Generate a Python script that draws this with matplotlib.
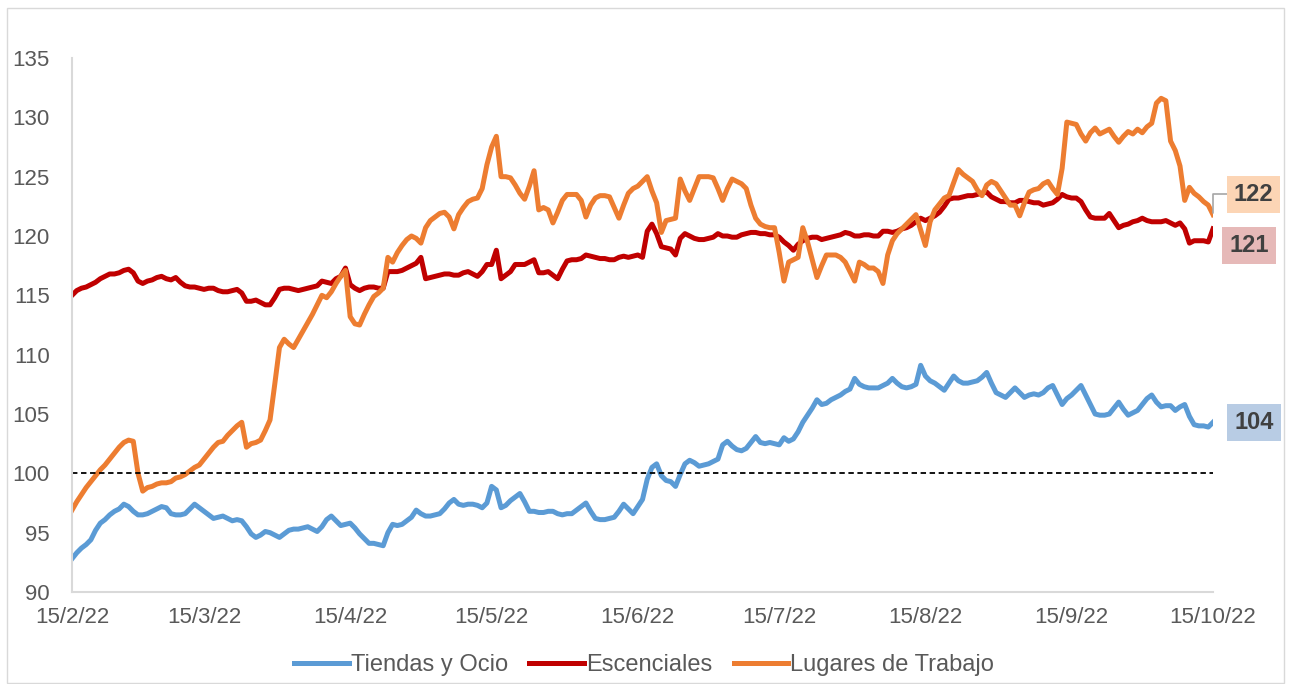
import numpy as np
import pandas as pd
import matplotlib
matplotlib.use('Agg')
import matplotlib.pyplot as plt
import matplotlib.dates as mdates
from matplotlib.ticker import FuncFormatter
from matplotlib.patches import Rectangle

# daily index, 15/2/22 .. 15/10/22
start_date = '2022-02-15'
n_days = 243

tiendas = [
    92.8, 93.3, 93.7, 94.0, 94.4, 95.2, 95.8, 96.1, 96.5, 96.8,
    97.0, 97.4, 97.2, 96.8, 96.5, 96.5, 96.6, 96.8, 97.0, 97.2,
    97.1, 96.6, 96.5, 96.5, 96.6, 97.0, 97.4, 97.1, 96.8, 96.5,
    96.2, 96.3, 96.4, 96.2, 96.0, 96.1, 96.0, 95.5, 94.9, 94.6,
    94.8, 95.1, 95.0, 94.8, 94.6, 94.9, 95.2, 95.3, 95.3, 95.4,
    95.5, 95.3, 95.1, 95.5, 96.1, 96.4, 96.0, 95.6, 95.7, 95.8,
    95.4, 94.9, 94.5, 94.1, 94.1, 94.0, 93.9, 95.0, 95.7, 95.6,
    95.7, 96.0, 96.3, 96.9, 96.6, 96.4, 96.4, 96.5, 96.6, 97.0,
    97.5, 97.8, 97.4, 97.3, 97.4, 97.4, 97.3, 97.1, 97.5, 98.9,
    98.6, 97.1, 97.3, 97.7, 98.0, 98.3, 97.6, 96.8, 96.8, 96.7,
    96.7, 96.8, 96.8, 96.6, 96.5, 96.6, 96.6, 96.9, 97.2, 97.5,
    96.8, 96.2, 96.1, 96.1, 96.2, 96.3, 96.8, 97.4, 97.0, 96.6,
    97.2, 97.8, 99.5, 100.5, 100.8, 99.8, 99.4, 99.3, 98.9, 99.9,
    100.8, 101.1, 100.9, 100.6, 100.7, 100.8, 101.0, 101.2, 102.4, 102.7,
    102.3, 102.0, 101.9, 102.1, 102.6, 103.1, 102.6, 102.5, 102.6, 102.5,
    102.4, 103.0, 102.7, 102.9, 103.5, 104.3, 104.9, 105.5, 106.2, 105.8,
    105.9, 106.2, 106.4, 106.6, 106.9, 107.1, 108.0, 107.5, 107.3, 107.2,
    107.2, 107.2, 107.4, 107.6, 108.0, 107.6, 107.3, 107.2, 107.3, 107.5,
    109.1, 108.2, 107.8, 107.6, 107.3, 107.0, 107.6, 108.2, 107.8, 107.6,
    107.6, 107.7, 107.8, 108.1, 108.5, 107.6, 106.8, 106.6, 106.4, 106.8,
    107.2, 106.8, 106.4, 106.6, 106.7, 106.6, 106.8, 107.2, 107.4, 106.6,
    105.8, 106.3, 106.6, 107.0, 107.4, 106.6, 105.8, 105.0, 104.9, 104.9,
    105.0, 105.5, 106.0, 105.4, 104.9, 105.1, 105.3, 105.8, 106.3, 106.6,
    106.0, 105.6, 105.7, 105.7, 105.3, 105.6, 105.8, 104.8, 104.1, 104.0,
    104.0, 103.9, 104.3,
]

esenciales = [
    115.0, 115.4, 115.6, 115.7, 115.9, 116.1, 116.4, 116.6, 116.8, 116.8,
    116.9, 117.1, 117.2, 116.9, 116.2, 116.0, 116.2, 116.3, 116.5, 116.6,
    116.4, 116.3, 116.5, 116.1, 115.8, 115.7, 115.7, 115.6, 115.5, 115.6,
    115.6, 115.4, 115.3, 115.3, 115.4, 115.5, 115.2, 114.5, 114.5, 114.6,
    114.4, 114.2, 114.2, 114.8, 115.5, 115.6, 115.6, 115.5, 115.4, 115.5,
    115.6, 115.7, 115.8, 116.2, 116.1, 116.0, 116.4, 116.6, 117.3, 115.9,
    115.6, 115.4, 115.6, 115.7, 115.7, 115.6, 115.6, 117.0, 117.0, 117.0,
    117.1, 117.3, 117.5, 117.7, 118.2, 116.4, 116.5, 116.6, 116.7, 116.8,
    116.8, 116.7, 116.7, 116.9, 117.0, 116.8, 116.6, 117.0, 117.6, 117.6,
    118.8, 116.4, 116.7, 117.0, 117.6, 117.6, 117.6, 117.8, 118.0, 116.9,
    116.9, 117.0, 116.7, 116.4, 117.2, 117.9, 118.0, 118.0, 118.1, 118.4,
    118.3, 118.2, 118.1, 118.1, 118.0, 118.0, 118.2, 118.3, 118.2, 118.3,
    118.4, 118.2, 120.4, 121.0, 120.2, 119.1, 119.0, 118.9, 118.4, 119.8,
    120.2, 120.0, 119.8, 119.7, 119.7, 119.8, 119.9, 120.2, 120.0, 120.0,
    119.9, 119.9, 120.1, 120.2, 120.3, 120.3, 120.2, 120.2, 120.1, 120.1,
    119.9, 119.5, 119.2, 118.8, 119.3, 119.6, 119.8, 119.9, 119.9, 119.7,
    119.8, 119.9, 120.0, 120.1, 120.3, 120.2, 120.0, 120.0, 120.1, 120.1,
    120.0, 120.0, 120.4, 120.4, 120.3, 120.4, 120.6, 120.7, 120.9, 121.2,
    121.5, 121.3, 121.5, 121.7, 122.0, 122.5, 123.1, 123.2, 123.2, 123.3,
    123.4, 123.4, 123.5, 123.6, 123.7, 123.3, 123.1, 122.9, 122.9, 122.8,
    122.8, 123.0, 123.0, 122.9, 122.8, 122.8, 122.6, 122.7, 122.8, 123.1,
    123.5, 123.3, 123.2, 123.2, 122.9, 122.2, 121.6, 121.5, 121.5, 121.5,
    121.9, 121.3, 120.7, 120.9, 121.0, 121.2, 121.3, 121.5, 121.3, 121.2,
    121.2, 121.2, 121.3, 121.1, 120.9, 121.1, 120.6, 119.4, 119.6, 119.6,
    119.6, 119.5, 120.6,
]

trabajo = [
    96.9, 97.6, 98.2, 98.8, 99.3, 99.8, 100.3, 100.7, 101.2, 101.7,
    102.2, 102.6, 102.8, 102.7, 100.0, 98.5, 98.8, 98.9, 99.1, 99.2,
    99.2, 99.3, 99.6, 99.7, 99.9, 100.2, 100.5, 100.7, 101.2, 101.7,
    102.2, 102.6, 102.7, 103.2, 103.6, 104.0, 104.3, 102.2, 102.5, 102.6,
    102.8, 103.6, 104.5, 107.5, 110.6, 111.3, 110.9, 110.6, 111.3, 112.0,
    112.7, 113.4, 114.2, 115.0, 114.8, 115.3, 116.0, 116.6, 117.1, 113.2,
    112.6, 112.5, 113.4, 114.2, 114.9, 115.2, 115.6, 118.2, 117.8, 118.6,
    119.2, 119.7, 120.0, 119.8, 119.4, 120.7, 121.3, 121.6, 121.9, 122.0,
    121.6, 120.6, 121.8, 122.4, 122.9, 123.1, 123.2, 124.0, 126.0, 127.5,
    128.4, 125.0, 125.0, 124.9, 124.3, 123.6, 123.1, 124.2, 125.5, 122.2,
    122.4, 122.2, 121.1, 122.0, 123.0, 123.5, 123.5, 123.5, 123.0, 121.6,
    122.6, 123.2, 123.4, 123.4, 123.3, 122.4, 121.5, 122.6, 123.6, 124.0,
    124.2, 124.6, 125.0, 123.8, 122.8, 120.3, 121.3, 121.4, 121.5, 124.8,
    123.8, 123.0, 124.0, 125.0, 125.0, 125.0, 124.9, 124.0, 123.0, 124.0,
    124.8, 124.6, 124.4, 124.0, 122.6, 121.5, 121.0, 120.8, 120.7, 120.7,
    118.6, 116.2, 117.8, 118.0, 118.2, 120.7, 119.5, 118.0, 116.5, 117.5,
    118.4, 118.4, 118.4, 118.2, 117.8, 117.0, 116.2, 117.8, 117.6, 117.3,
    117.3, 117.0, 116.0, 118.4, 119.6, 120.2, 120.6, 121.0, 121.4, 121.8,
    120.5, 119.2, 121.2, 122.2, 122.7, 123.2, 123.4, 124.5, 125.6, 125.2,
    124.9, 124.6, 123.9, 123.4, 124.3, 124.6, 124.4, 123.8, 123.2, 122.6,
    122.6, 121.7, 122.8, 123.7, 123.9, 124.0, 124.4, 124.6, 124.0, 123.5,
    125.7, 129.6, 129.5, 129.4, 128.6, 128.0, 128.7, 129.1, 128.6, 128.8,
    129.0, 128.4, 127.9, 128.4, 128.8, 128.6, 129.0, 128.7, 129.2, 129.5,
    131.2, 131.6, 131.4, 128.0, 127.2, 125.9, 123.0, 124.1, 123.6, 123.3,
    122.9, 122.6, 121.8,
]

labels = ['Tiendas y Ocio', 'Escenciales', 'Lugares de Trabajo']
colors = ['#5b9bd5', '#c00000', '#ed7d31']
box_colors = ['#b8cce4', '#e6b9b8', '#fcd5b5']
y_ticks = [90, 95, 100, 105, 110, 115, 120, 125, 130, 135]

dates = pd.date_range(start_date, periods=n_days, freq='D')
series = [tiendas, esenciales, trabajo]

plt.rcParams['font.family'] = ['Liberation Sans', 'DejaVu Sans']

fig = plt.figure(figsize=(12.91, 6.84), dpi=100)
ax = fig.add_axes([72 / 1291, 92 / 684, (1213 - 72) / 1291, (592 - 58) / 684])

for vals, lab, col in zip(series, labels, colors):
    ax.plot(dates, vals, color=col, lw=3.6, label=lab, solid_joinstyle='round')

ax.axhline(100, color='black', lw=1.3, ls=(0, (3, 2)))

ax.set_xlim(dates[0], dates[-1])
ax.set_ylim(90, 135)
ax.set_yticks(y_ticks)
tick_dates = pd.date_range(start_date, periods=9, freq=pd.DateOffset(months=1))
ax.set_xticks(tick_dates)


def fmt_date(v, pos):
    d = mdates.num2date(v)
    return '{}/{}/{}'.format(d.day, d.month, d.year % 100)


ax.xaxis.set_major_formatter(FuncFormatter(fmt_date))

ax.tick_params(axis='both', length=0, labelsize=16, colors='#595959')
ax.tick_params(axis='y', pad=16)
ax.tick_params(axis='x', pad=11)
for side in ['top', 'right']:
    ax.spines[side].set_visible(False)
for side in ['left', 'bottom']:
    ax.spines[side].set_color('#d9d9d9')
    ax.spines[side].set_linewidth(1.5)

# end-of-series labels
offsets = [(8.7, 0.0), (7.6, -1.4), (8.6, 1.7)]
for i, (vals, bc, (dx, dy)) in enumerate(zip(series, box_colors, offsets)):
    last = vals[-1]
    txt_pos = (dates[-1] + pd.Timedelta(days=dx), last + dy)
    kw = dict(xy=(dates[-1], last), xytext=txt_pos, textcoords='data',
              ha='center', va='center', fontsize=17, fontweight='bold',
              color='#404040', annotation_clip=False,
              bbox=dict(boxstyle='square,pad=0.3', fc=bc, ec='none'))
    if i == 2:
        kw['arrowprops'] = dict(arrowstyle='-', color='#a6a6a6', lw=1.2,
                                connectionstyle='angle,angleA=0,angleB=90,rad=0',
                                shrinkA=0, shrinkB=1)
    ax.annotate('{:.0f}'.format(last), **kw)

leg = fig.legend(loc='center', bbox_to_anchor=(0.499, 0.028), ncol=3, frameon=False,
                 fontsize=17, handlelength=2.3, handletextpad=0.1, columnspacing=0.9)
for t in leg.get_texts():
    t.set_color('#595959')

fig.patches.append(Rectangle((7 / 1291, 1 / 684), 1277 / 1291, 675 / 684,
                             transform=fig.transFigure, fill=False,
                             edgecolor='#d9d9d9', lw=1))

fig.savefig('out.png', dpi=100)
